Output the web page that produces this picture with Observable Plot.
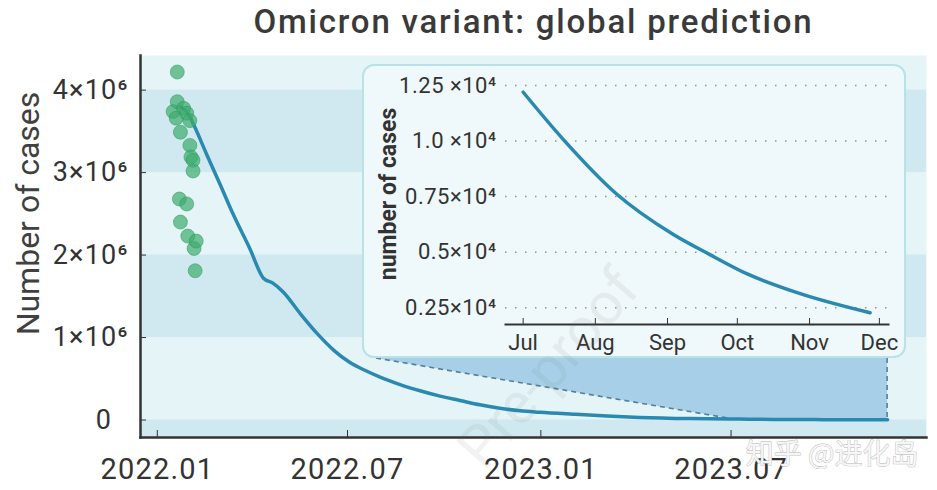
<!DOCTYPE html>
<html>
<head>
<meta charset="utf-8">
<script src="https://cdn.jsdelivr.net/npm/d3@7"></script>
<script src="https://cdn.jsdelivr.net/npm/@observablehq/plot@0.6"></script>
<style>
  html, body { margin: 0; padding: 0; background: #ffffff; }
  #wrap { position: relative; width: 937px; height: 490px; overflow: hidden; font-family: Roboto, sans-serif; }
  #inset { position: absolute; left: 362px; top: 64px; width: 540px; height: 290px; border: 2px solid #b8e2e6; border-radius: 12px; background: #eff8fa; overflow: hidden; }
  #wm { position: absolute; left: 548px; top: 368px; transform: translate(-50%, -50%) rotate(-49deg); font: 58px Roboto, sans-serif; color: rgba(110,110,110,0.09); white-space: nowrap; pointer-events: none; }
  #main g[aria-label="x-axis tick label"] text { letter-spacing: 1.2px; }
  #main g[aria-label="y-axis tick label"] text { letter-spacing: 1.2px; }
  #inset g[aria-label="y-axis tick label"] text { letter-spacing: 0.5px; }
</style>
</head>
<body>
<div id="wrap"><div id="main"></div><div id="inset"></div><div id="wm">Pre-proof</div></div>
<script>
// ---------- data ----------
const titleText = "Omicron variant: global prediction";
const yLabelText = "Number of cases";
const insetYLabelText = "number of cases";
const watermarkText = "知乎 @进化岛";

// observed daily cases (green dots)
const obsDates = ["2022-01-16","2022-01-19","2022-01-20","2022-01-20","2022-01-22","2022-01-23","2022-01-23","2022-01-26","2022-01-29","2022-01-29","2022-01-30","2022-02-01","2022-02-01","2022-02-02","2022-02-04","2022-02-04","2022-02-05","2022-02-06","2022-02-07"];
const obsCases = [3740000,3660000,4220000,3860000,2680000,3490000,2400000,3780000,3720000,2620000,2230000,3630000,3330000,3190000,3150000,3020000,2080000,1810000,2170000];

// predicted curve (main panel)
const predDates = ["2022-01-23","2022-01-31","2022-02-05","2022-02-17","2022-03-02","2022-03-14","2022-03-30","2022-04-12","2022-04-21","2022-05-01","2022-05-17","2022-06-02","2022-06-18","2022-07-03","2022-07-18","2022-08-01","2022-08-20","2022-09-08","2022-09-27","2022-10-16","2022-11-04","2022-11-23","2022-12-12","2022-12-31","2023-02-01","2023-03-05","2023-04-05","2023-05-23"];
const predCases = [3800000,3700000,3570000,3220000,2850000,2500000,2080000,1720000,1660000,1550000,1290000,1050000,845000,700000,600000,520000,430000,355000,290000,237000,184000,143000,112000,94000,70000,48000,31000,17000];

// zoomed prediction (inset), Jul–Dec 2023
const insetDates = ["2023-07-01","2023-07-18","2023-08-10","2023-09-03","2023-09-19","2023-10-05","2023-10-28","2023-11-27"];
const insetCases = [12200,10100,7630,5830,4900,4030,3130,2270];

// axes
const mainXTicks = ["2022-01-01","2022-07-01","2023-01-01","2023-07-01"];
const mainXTickLabels = ["2022.01","2022.07","2023.01","2023.07"];
const mainYTicks = [0,1000000,2000000,3000000,4000000];
const mainYTickLabels = ["0\u2007","1×10⁶","2×10⁶","3×10⁶","4×10⁶"];
const mainXDomain = ["2021-12-16","2024-01-03"];
const mainYDomain = [-212000, 4420000];
const bandFrom = [-1000000, 1000000, 3000000];
const bandTo = [0, 2000000, 4000000];

const insetXTicks = ["2023-07-01","2023-08-01","2023-09-01","2023-10-01","2023-11-01","2023-12-01"];
const insetXTickLabels = ["Jul","Aug","Sep","Oct","Nov","Dec"];
const insetYTicks = [2500,5000,7500,10000,12500];
const insetYTickLabels = ["0.25×10⁴","0.5×10⁴","0.75×10⁴","1.0 ×10⁴","1.25 ×10⁴"];
const insetXDomain = ["2023-06-23T10:00Z","2023-12-04T22:00Z"];
const insetYDomain = [1744, 12770];

// ---------- build ----------
const D = s => new Date(s);
const obs = obsDates.map((d, i) => ({date: D(d), cases: obsCases[i]}));
const pred = predDates.map((d, i) => ({date: D(d), cases: predCases[i]}))
  .concat(insetDates.map((d, i) => ({date: D(d), cases: insetCases[i]})));
const insetSeries = insetDates.map((d, i) => ({date: D(d), cases: insetCases[i]}));
const bands = bandFrom.map((v, i) => ({y1: v, y2: bandTo[i]}));
const mxLab = new Map(mainXTicks.map((d, i) => [+D(d), mainXTickLabels[i]]));
const myLab = new Map(mainYTicks.map((d, i) => [d, mainYTickLabels[i]]));
const ixLab = new Map(insetXTicks.map((d, i) => [+D(d), insetXTickLabels[i]]));
const iyLab = new Map(insetYTicks.map((d, i) => [d, insetYTickLabels[i]]));

const INSET = {left: 362, top: 64, w: 544, h: 294};
const lineColor = "#2a89b0";

function connector(index, scales) {
  const x = scales.x, y = scales.y;
  const a = insetSeries[0], b = insetSeries[insetSeries.length - 1];
  const xa = x(a.date), ya = y(a.cases), xb = x(b.date), yb = y(b.cases);
  const bx = INSET.left + 14, by = INSET.top + INSET.h;
  const g = d3.create("svg:g");
  g.append("polygon")
    .attr("points", [[bx, by], [xb, by], [xb, yb], [xa, ya]].map(p => p.join(",")).join(" "))
    .attr("fill", "#a7d0e8");
  g.append("line").attr("x1", bx).attr("y1", by).attr("x2", xa).attr("y2", ya)
    .attr("stroke", "#557f99").attr("stroke-width", 1.6).attr("stroke-dasharray", "5,4");
  g.append("line").attr("x1", xb).attr("y1", by).attr("x2", xb).attr("y2", yb)
    .attr("stroke", "#557f99").attr("stroke-width", 1.6).attr("stroke-dasharray", "5,4");
  return g.node();
}

const main = Plot.plot({
  width: 937, height: 490,
  marginLeft: 140, marginRight: 11, marginTop: 55, marginBottom: 53,
  x: {type: "utc", domain: mainXDomain.map(D)},
  y: {domain: mainYDomain},
  style: {background: "transparent", fontFamily: "Roboto, sans-serif", color: "#333"},
  marks: [
    Plot.frame({fill: "#e4f4f7", stroke: null}),
    Plot.rect(bands, {x1: () => D(mainXDomain[0]), x2: () => D(mainXDomain[1]), y1: "y1", y2: "y2", fill: "#d0e9f1", clip: true}),
    connector,
    Plot.line(pred, {x: "date", y: "cases", curve: "monotone-x", stroke: lineColor, strokeWidth: 3.5}),
    Plot.dot(obs, {x: "date", y: "cases", r: 7, fill: "#3dab6c", fillOpacity: 0.7, stroke: "#2a9a5b", strokeOpacity: 0.5, strokeWidth: 1}),
    Plot.axisY(mainYTicks, {tickSize: -6, tickPadding: 18, tickFormat: d => myLab.get(d), fontSize: 27, label: null, stroke: "#333"}),
    Plot.axisX(mainXTicks.map(D), {tickSize: -7, tickPadding: 28, tickFormat: d => mxLab.get(+d), fontSize: 29, label: null, stroke: "#333"}),
    Plot.frame({anchor: "left", stroke: "#333", strokeWidth: 2.5}),
    Plot.frame({anchor: "bottom", stroke: "#333", strokeWidth: 2.5}),
    Plot.text([titleText], {frameAnchor: "top", lineAnchor: "middle", dy: -33, fontSize: 33, fontWeight: 500, fill: "#3a3a3a"}),
    Plot.text([yLabelText], {frameAnchor: "left", textAnchor: "middle", lineAnchor: "middle", rotate: -90, dx: -112, dy: -33, fontSize: 32, fill: "#404040"}),
    Plot.text([watermarkText], {frameAnchor: "bottom-right", textAnchor: "end", lineAnchor: "middle", dx: -8, dy: 18, fontSize: 28, fontFamily: "Noto Sans CJK SC", fill: "#f6f6f6", stroke: "#b5b5b5", strokeWidth: 0.8})
  ]
});
d3.select(main).selectAll("text").filter(function() { return this.textContent === titleText; }).style("letter-spacing", "1.8px");
document.getElementById("main").appendChild(main);

const inset = Plot.plot({
  width: 540, height: 290,
  marginLeft: 141, marginRight: 16, marginTop: 13, marginBottom: 32,
  x: {type: "utc", domain: insetXDomain.map(D)},
  y: {domain: insetYDomain},
  style: {background: "transparent", fontFamily: "Roboto, sans-serif", color: "#333"},
  marks: [
    Plot.gridY(insetYTicks, {stroke: "#8a8a8a", strokeOpacity: 0.9, strokeWidth: 1.5, strokeDasharray: "1.5,8.5"}),
    Plot.line(insetSeries, {x: "date", y: "cases", curve: "monotone-x", stroke: lineColor, strokeWidth: 3.5}),
    Plot.axisY(insetYTicks, {tickSize: 0, tickPadding: 9, tickFormat: d => iyLab.get(d), fontSize: 22, label: null}),
    Plot.axisX(insetXTicks.map(D), {tickSize: -6, tickPadding: 16, tickFormat: d => ixLab.get(+d), fontSize: 22, label: null, stroke: "#333"}),
    Plot.frame({anchor: "bottom", stroke: "#333", strokeWidth: 2}),
    Plot.text([insetYLabelText], {frameAnchor: "left", textAnchor: "middle", lineAnchor: "middle", rotate: -90, dx: -117, dy: -8, fontSize: 23, fontWeight: "bold", fill: "#333"})
  ]
});
document.getElementById("inset").appendChild(inset);
</script>
</body>
</html>
